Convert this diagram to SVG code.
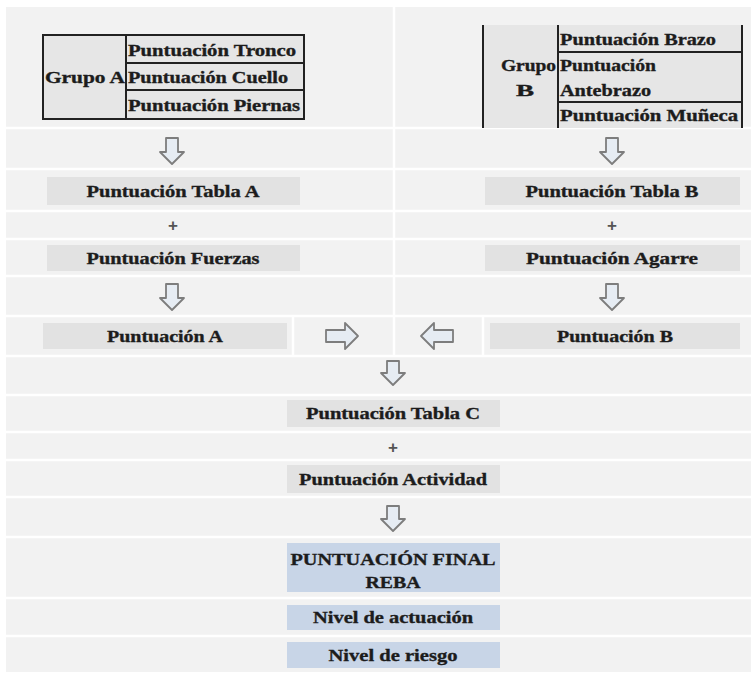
<svg xmlns="http://www.w3.org/2000/svg" width="751" height="677" viewBox="0 0 751 677">
<defs>
<style>
.bg{fill:#f2f2f2}
.sep{stroke:#ffffff;stroke-width:2.5}
.box{fill:#e2e2e2}
.blue{fill:#c8d5e7}
.cell{fill:#e6e6e6}
.t{font-family:"Liberation Serif","Times New Roman",serif;font-weight:bold;font-size:17px;fill:#1c1c1c;stroke:#1c1c1c;stroke-width:0.35;text-anchor:middle}
.tl{font-family:"Liberation Serif","Times New Roman",serif;font-weight:bold;font-size:16px;fill:#1c1c1c;stroke:#1c1c1c;stroke-width:0.35}
.p{font-family:"Liberation Sans",Arial,sans-serif;font-weight:bold;font-size:17px;fill:#555555;text-anchor:middle}
.ln{stroke:#222;stroke-width:2;fill:none}
.arr{fill:#e6ecf3;stroke:#7d7d7d;stroke-width:1.8;stroke-linejoin:round}
</style>
</defs>
<rect width="751" height="677" fill="#ffffff"/>
<rect class="bg" x="6" y="7" width="745" height="665"/>
<g id="grid">
<line class="sep" x1="394" y1="7" x2="394" y2="356"/>
<line class="sep" x1="6" y1="128" x2="751" y2="128"/>
<line class="sep" x1="6" y1="169" x2="751" y2="169"/>
<line class="sep" x1="6" y1="211" x2="751" y2="211"/>
<line class="sep" x1="6" y1="239" x2="751" y2="239"/>
<line class="sep" x1="6" y1="276" x2="751" y2="276"/>
<line class="sep" x1="6" y1="316" x2="751" y2="316"/>
<line class="sep" x1="293" y1="316" x2="293" y2="356"/>
<line class="sep" x1="483" y1="316" x2="483" y2="356"/>
<line class="sep" x1="6" y1="356" x2="751" y2="356"/>
<line class="sep" x1="6" y1="395" x2="751" y2="395"/>
<line class="sep" x1="6" y1="432" x2="751" y2="432"/>
<line class="sep" x1="6" y1="460" x2="751" y2="460"/>
<line class="sep" x1="6" y1="497" x2="751" y2="497"/>
<line class="sep" x1="6" y1="537" x2="751" y2="537"/>
<line class="sep" x1="6" y1="598" x2="751" y2="598"/>
<line class="sep" x1="6" y1="636" x2="751" y2="636"/>
</g>
<g id="grupoA">
<rect class="cell" x="43" y="35" width="261" height="84"/>
<rect class="ln" x="43" y="35" width="261" height="84"/>
<line class="ln" x1="126" y1="35" x2="126" y2="119"/>
<line class="ln" x1="126" y1="63" x2="304" y2="63" stroke-width="1.5"/>
<line class="ln" x1="126" y1="90" x2="304" y2="90" stroke-width="1.5"/>
<text class="tl" x="45" y="83" textLength="80" lengthAdjust="spacingAndGlyphs">Grupo A</text>
<text class="tl" x="128" y="56" textLength="168" lengthAdjust="spacingAndGlyphs">Puntuación Tronco</text>
<text class="tl" x="128" y="83" textLength="160" lengthAdjust="spacingAndGlyphs">Puntuación Cuello</text>
<text class="tl" x="128" y="111" textLength="172" lengthAdjust="spacingAndGlyphs">Puntuación Piernas</text>
</g>
<g id="grupoB">
<rect class="cell" x="483" y="25" width="259" height="103"/>
<line class="ln" x1="483" y1="25" x2="483" y2="128"/>
<line class="ln" x1="558" y1="25" x2="558" y2="128"/>
<line class="ln" x1="742" y1="25" x2="742" y2="128"/>
<line class="ln" x1="558" y1="52" x2="742" y2="52" stroke-width="1.5"/>
<line class="ln" x1="558" y1="102" x2="742" y2="102" stroke-width="1.5"/>
<text class="tl" x="501" y="71" textLength="55" lengthAdjust="spacingAndGlyphs">Grupo</text>
<text class="tl" x="516" y="96" textLength="18" lengthAdjust="spacingAndGlyphs">B</text>
<text class="tl" x="560" y="45" textLength="156" lengthAdjust="spacingAndGlyphs">Puntuación Brazo</text>
<text class="tl" x="560" y="71" textLength="96" lengthAdjust="spacingAndGlyphs">Puntuación</text>
<text class="tl" x="560" y="96" textLength="91" lengthAdjust="spacingAndGlyphs">Antebrazo</text>
<text class="tl" x="560" y="121" textLength="178" lengthAdjust="spacingAndGlyphs">Puntuación Muñeca</text>
</g>
<g id="tablaA"><rect class="box" x="47" y="177" width="253" height="28"/><text class="t" x="173" y="197" textLength="173" lengthAdjust="spacingAndGlyphs">Puntuación Tabla A</text></g>
<g id="plusA"><text class="p" x="173" y="231">+</text></g>
<g id="fuerzas"><rect class="box" x="47" y="245" width="253" height="26"/><text class="t" x="173" y="264" textLength="173" lengthAdjust="spacingAndGlyphs">Puntuación Fuerzas</text></g>
<g id="puntA"><rect class="box" x="43" y="323" width="244" height="26"/><text class="t" x="165" y="342" textLength="116" lengthAdjust="spacingAndGlyphs">Puntuación A</text></g>
<g id="tablaB"><rect class="box" x="485" y="177" width="255" height="28"/><text class="t" x="612" y="197" textLength="173" lengthAdjust="spacingAndGlyphs">Puntuación Tabla B</text></g>
<g id="plusB"><text class="p" x="612" y="231">+</text></g>
<g id="agarre"><rect class="box" x="485" y="245" width="255" height="26"/><text class="t" x="612" y="264" textLength="172" lengthAdjust="spacingAndGlyphs">Puntuación Agarre</text></g>
<g id="puntB"><rect class="box" x="490" y="323" width="250" height="26"/><text class="t" x="615" y="342" textLength="116" lengthAdjust="spacingAndGlyphs">Puntuación B</text></g>
<g id="tablaC"><rect class="box" x="287" y="400" width="213" height="27"/><text class="t" x="393" y="419" textLength="174" lengthAdjust="spacingAndGlyphs">Puntuación Tabla C</text></g>
<g id="plusC"><text class="p" x="393" y="453">+</text></g>
<g id="actividad"><rect class="box" x="287" y="465" width="213" height="28"/><text class="t" x="393" y="485" textLength="188" lengthAdjust="spacingAndGlyphs">Puntuación Actividad</text></g>
<g id="final"><rect class="blue" x="287" y="543" width="213" height="49"/><text class="t" x="393" y="565" textLength="205" lengthAdjust="spacingAndGlyphs">PUNTUACIÓN FINAL</text><text class="t" x="393" y="588" textLength="55" lengthAdjust="spacingAndGlyphs">REBA</text></g>
<g id="actuacion"><rect class="blue" x="287" y="605" width="213" height="25"/><text class="t" x="393" y="623" textLength="160" lengthAdjust="spacingAndGlyphs">Nivel de actuación</text></g>
<g id="riesgo"><rect class="blue" x="287" y="642" width="213" height="26"/><text class="t" x="393" y="661" textLength="129" lengthAdjust="spacingAndGlyphs">Nivel de riesgo</text></g>
<g id="connectors">
<path class="arr" d="M166,138 h12 v14 h6 l-12,12 l-12,-12 h6 z"/>
<path class="arr" d="M606,138 h12 v14 h6 l-12,12 l-12,-12 h6 z"/>
<path class="arr" d="M166,284 h12 v14 h6 l-12,12 l-12,-12 h6 z"/>
<path class="arr" d="M606,284 h12 v14 h6 l-12,12 l-12,-12 h6 z"/>
<path class="arr" d="M326,330 h19 v-7 l13,13 l-13,13 v-7 h-19 z"/>
<path class="arr" d="M453,330 h-19 v-7 l-13,13 l13,13 v-7 h19 z"/>
<path class="arr" d="M387,361 h12 v12 h6 l-12,12 l-12,-12 h6 z"/>
<path class="arr" d="M387,506 h12 v13 h6 l-12,12 l-12,-12 h6 z"/>
</g>
</svg>
